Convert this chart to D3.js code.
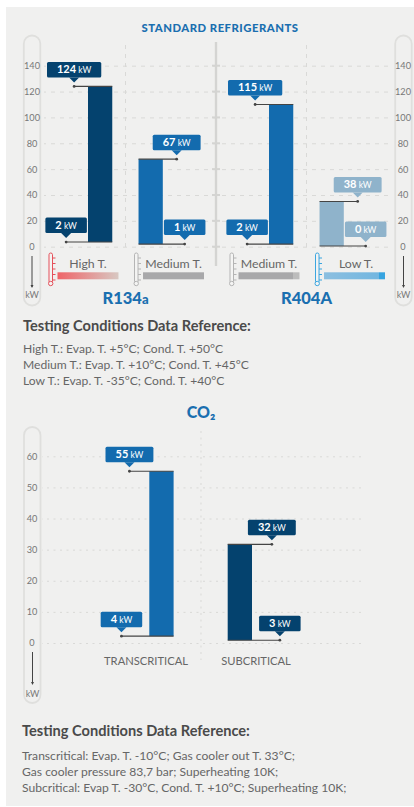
<!DOCTYPE html>
<html>
<head>
<meta charset="utf-8">
<script src="https://cdn.jsdelivr.net/npm/d3@7"></script>
<style>
  html, body { margin: 0; padding: 0; background: #fff; }
  svg { display: block; font-family: Lato, "Open Sans", sans-serif; }
</style>
</head>
<body>
<div id="chart"></div>
<script>
// top chart
const refrigerants = ["R134a", "R404A"];
const conditions = ["High T.", "Medium T.", "Medium T.", "Low T."];
const topBarTops = [124, 67.7, 110, 35];
const topBarBases = [3.6, 2, 2, 0.5];
const topLabelsHigh = [124, 67, 115, 38];
const topLabelsLow = [2, 1, 2, 0];
const topTicks = [0, 20, 40, 60, 80, 100, 120, 140];

// CO2 chart
const co2Categories = ["TRANSCRITICAL", "SUBCRITICAL"];
const co2BarTops = [55.2, 31.7];
const co2BarBases = [2.2, 0.9];
const co2LabelsHigh = [55, 32];
const co2LabelsLow = [4, 3];
const co2Ticks = [0, 10, 20, 30, 40, 50, 60];

const notesTop = [
  "High T.: Evap. T. +5°C; Cond. T. +50°C",
  "Medium T.: Evap. T. +10°C; Cond. T. +45°C",
  "Low T.: Evap. T. -35°C; Cond. T. +40°C"
];
const notesCo2 = [
  "Transcritical: Evap. T. -10°C; Gas cooler out T. 33°C;",
  "Gas cooler pressure 83,7 bar; Superheating 10K;",
  "Subcritical: Evap T. -30°C, Cond. T. +10°C; Superheating 10K;"
];

const DARK = "#04426e", BLUE = "#136bae", LIGHT = "#8fb3cb";
const TITLE = "#1a6fb0", GRID = "#d9d9d7", PILL = "#dfdfdd", INK = "#444", TEXT = "#666";

const svg = d3.select("#chart").append("svg")
  .attr("width", 414)
  .attr("height", 807);

svg.append("rect")
  .attr("x", 6).attr("y", 7)
  .attr("width", 408).attr("height", 799)
  .attr("fill", "#f0f0ef");

const defs = svg.append("defs");
function gradient(id, stops) {
  const g = defs.append("linearGradient").attr("id", id);
  stops.forEach(s => g.append("stop").attr("offset", s[0]).attr("stop-color", s[1]));
}
gradient("gradHigh", [[0, "#ef6468"], [1, "#d8c8c2"]]);
gradient("gradMed", [[0, "#a8a8aa"], [0.9, "#a8a8aa"], [0.9, "#bcbcbc"], [1, "#bcbcbc"]]);
gradient("gradGrey", [[0, "#a8a8aa"], [1, "#a8a8aa"]]);
gradient("gradLow", [[0, "#8cbfe0"], [0.9, "#72b6e0"], [0.9, "#37a4e0"], [1, "#37a4e0"]]);

// ---- scales, top chart
const yTop = d3.scaleLinear().domain([0, 140]).range([246.7, 65.7]);
const xGroup = d3.scaleBand().domain(refrigerants).range([35, 397]);
const xBar = d3.scaleBand().domain([0, 1]).range([53, 127.8]).paddingInner(0.52);
const xStrip = d3.scaleBand().domain([0, 1]).range([22.5, 169]).paddingInner(0.287);

// ---- scales, CO2 chart
const yCo2 = d3.scaleLinear().domain([0, 60]).range([643, 456.3]);
const xCo2 = d3.scaleBand().domain(co2Categories).range([149.3, 252]).paddingInner(0.69);
const xCo2Label = d3.scalePoint().domain(co2Categories).range([146, 256]);

function pill(x, y1, y2) {
  svg.append("rect")
    .attr("x", x).attr("y", y1)
    .attr("width", 16.5).attr("height", y2 - y1)
    .attr("rx", 8.2)
    .attr("fill", "none")
    .attr("stroke", PILL)
    .attr("stroke-width", 1.8);
}

function grid(scale, ticks, x1, x2, dash) {
  const g = svg.append("g")
    .attr("transform", `translate(${x2},0)`)
    .call(d3.axisLeft(scale).tickValues(ticks).tickSize(x2 - x1).tickFormat(""));
  g.select(".domain").remove();
  g.selectAll("line")
    .attr("stroke", GRID)
    .attr("stroke-dasharray", dash);
}

function tickLabels(scale, ticks, x) {
  const g = svg.append("g")
    .attr("transform", `translate(${x},0)`)
    .call(d3.axisLeft(scale).tickValues(ticks).tickSize(0).tickPadding(0));
  g.select(".domain").remove();
  g.selectAll("text")
    .attr("x", 0)
    .attr("text-anchor", "middle")
    .attr("fill", "#777")
    .style("font-family", "Lato, sans-serif")
    .style("font-size", "9.2px");
}

function unitArrow(x, y1, y2, yText) {
  svg.append("line")
    .attr("x1", x).attr("x2", x)
    .attr("y1", y1).attr("y2", y2)
    .attr("stroke", INK);
  svg.append("path")
    .attr("d", `M${x - 1.5},${y2 - 2}L${x + 1.5},${y2 - 2}L${x},${y2 + 1}Z`)
    .attr("fill", INK);
  svg.append("text")
    .attr("x", x).attr("y", yText)
    .attr("text-anchor", "middle")
    .attr("fill", "#777")
    .style("font-size", "9px")
    .text("kW");
}

function callout(dotX, lineY, value, color) {
  const g = svg.append("g");
  const label = g.append("text")
    .attr("x", dotX)
    .attr("y", lineY - 13)
    .attr("text-anchor", "middle")
    .attr("fill", "#fff");
  label.append("tspan").style("font-size", "11px").style("font-weight", 700).text(value);
  label.append("tspan").style("font-size", "8.5px").text(" kW");
  const w = label.node().getComputedTextLength() + 20;
  g.insert("path", "text")
    .attr("d", `M${dotX - 5},${lineY - 9}L${dotX},${lineY - 4}L${dotX + 5},${lineY - 9}Z`)
    .attr("fill", color);
  g.insert("rect", "text")
    .attr("x", dotX - w / 2)
    .attr("y", lineY - 24.5)
    .attr("width", w)
    .attr("height", 15.5)
    .attr("rx", 1.5)
    .attr("fill", color);
}

function leader(barX, barW, dotX, lineY) {
  const far = dotX < barX ? barX + barW : barX;
  svg.append("line")
    .attr("x1", far).attr("x2", dotX)
    .attr("y1", lineY).attr("y2", lineY)
    .attr("stroke", INK)
    .attr("stroke-width", 1.1);
  svg.append("circle")
    .attr("cx", dotX).attr("cy", lineY)
    .attr("r", 1.4)
    .attr("fill", INK);
}

function thermometer(x, color) {
  const g = svg.append("g").attr("transform", `translate(${x},0)`);
  g.append("rect")
    .attr("x", -1.5).attr("y", 253)
    .attr("width", 3.5).attr("height", 30)
    .attr("rx", 1.7)
    .attr("fill", "#f4f4f3")
    .attr("stroke", color);
  g.append("circle")
    .attr("cx", 0.2).attr("cy", 283.5)
    .attr("r", 2.2)
    .attr("fill", "#f4f4f3")
    .attr("stroke", color);
  d3.range(5).forEach(i => {
    g.append("line")
      .attr("x1", 2).attr("x2", 5)
      .attr("y1", 258 + i * 5.5).attr("y2", 258 + i * 5.5)
      .attr("stroke", color);
  });
}

function noteBlock(heading, lines, x, yHead, yFirst) {
  svg.append("text")
    .attr("x", x).attr("y", yHead)
    .attr("fill", "#4a4a4a")
    .style("font-size", "14.6px")
    .style("font-weight", 700)
    .text(heading);
  lines.forEach((line, i) => {
    svg.append("text")
      .attr("x", x).attr("y", yFirst + i * 16)
      .attr("fill", TEXT)
      .style("font-size", "12.1px")
      .text(line);
  });
}

// ---- top chart
svg.append("text")
  .attr("x", 220).attr("y", 32)
  .attr("text-anchor", "middle")
  .attr("fill", TITLE)
  .style("font-size", "11.3px")
  .style("font-weight", 900)
  .style("letter-spacing", "0.5px")
  .text("STANDARD REFRIGERANTS");

grid(yTop, topTicks, 44, 388, "4 5");

refrigerants.forEach(r => {
  svg.append("line")
    .attr("x1", xGroup(r) + xGroup.bandwidth() / 2)
    .attr("x2", xGroup(r) + xGroup.bandwidth() / 2)
    .attr("y1", 45).attr("y2", 250)
    .attr("stroke", GRID)
    .attr("stroke-dasharray", "4 5");
});

// centre divider
const divider = svg.append("g").attr("transform", "translate(216,0)");
divider.append("line")
  .attr("y1", 42).attr("y2", 266)
  .attr("stroke", "#d4d4d2")
  .attr("stroke-width", 2.4);
topTicks.forEach(t => {
  divider.append("line")
    .attr("x1", -4).attr("x2", 4)
    .attr("y1", yTop(t)).attr("y2", yTop(t))
    .attr("stroke", "#d4d4d2")
    .attr("stroke-width", 2);
});

pill(23.8, 35.5, 305.5);
pill(395.2, 35.5, 305.5);
tickLabels(yTop, topTicks, 32);
tickLabels(yTop, topTicks, 403);
unitArrow(32, 256, 287, 298);
unitArrow(403.5, 256, 287, 298);

const topColors = [DARK, BLUE, BLUE, LIGHT];
const stripFills = ["url(#gradHigh)", "url(#gradGrey)", "url(#gradMed)", "url(#gradLow)"];
const thermoColors = ["#e5505a", "#b4b4b4", "#b4b4b4", "#39a5e0"];

conditions.forEach((c, i) => {
  const group = refrigerants[Math.floor(i / 2)];
  const slot = i % 2;
  const barX = xGroup(group) + xBar(slot);
  const barW = xBar.bandwidth();
  const mid = barX + barW / 2;
  const side = slot === 0 ? -1 : 1;

  svg.append("rect")
    .attr("x", barX)
    .attr("y", yTop(topBarTops[i]))
    .attr("width", barW)
    .attr("height", yTop(topBarBases[i]) - yTop(topBarTops[i]))
    .attr("fill", topColors[i]);

  leader(barX, barW, mid + side * 26, yTop(topBarTops[i]));
  leader(barX, barW, mid + side * 34, yTop(topBarBases[i]));
  callout(mid + side * 26, yTop(topBarTops[i]), topLabelsHigh[i], topColors[i]);
  callout(mid + side * 34, yTop(topBarBases[i]), topLabelsLow[i], topColors[i]);

  const stripX = xGroup(group) + xStrip(slot);
  svg.append("rect")
    .attr("x", stripX)
    .attr("y", 272.3)
    .attr("width", xStrip.bandwidth())
    .attr("height", 7)
    .attr("fill", stripFills[i]);
  svg.append("text")
    .attr("x", stripX + xStrip.bandwidth() / 2 + (i === 3 ? 1.5 : 0))
    .attr("y", 268)
    .attr("text-anchor", "middle")
    .attr("fill", TEXT)
    .style("font-size", "12.3px")
    .text(c);
  thermometer(stripX - 7, thermoColors[i]);
});

refrigerants.forEach(r => {
  const label = svg.append("text")
    .attr("x", xGroup(r) + xGroup.bandwidth() / 2)
    .attr("y", 304)
    .attr("text-anchor", "middle")
    .attr("fill", TITLE)
    .style("font-size", "16.5px")
    .style("font-weight", 900);
  if (r === "R134a") {
    label.append("tspan").text("R134");
    label.append("tspan").style("font-size", "13px").text("a");
  } else {
    label.text(r);
  }
});

noteBlock("Testing Conditions Data Reference:", notesTop, 23, 331, 353);

// ---- CO2 chart
svg.append("text")
  .attr("x", 201).attr("y", 418)
  .attr("text-anchor", "middle")
  .attr("fill", TITLE)
  .style("font-size", "16px")
  .style("font-weight", 900)
  .text("CO₂");

grid(yCo2, co2Ticks, 42, 361, "2 4.5");
svg.append("line")
  .attr("x1", 201).attr("x2", 201)
  .attr("y1", 431).attr("y2", 660)
  .attr("stroke", GRID)
  .attr("stroke-dasharray", "2 4.5");

pill(24, 427, 703);
tickLabels(yCo2, co2Ticks, 32);
unitArrow(32.5, 652, 684, 697);

const co2Colors = [BLUE, DARK];
co2Categories.forEach((c, i) => {
  const barX = xCo2(c);
  const barW = xCo2.bandwidth();
  const mid = barX + barW / 2;
  const side = i === 0 ? -1 : 1;

  svg.append("rect")
    .attr("x", barX)
    .attr("y", yCo2(co2BarTops[i]))
    .attr("width", barW)
    .attr("height", yCo2(co2BarBases[i]) - yCo2(co2BarTops[i]))
    .attr("fill", co2Colors[i]);

  leader(barX, barW, mid + side * 32, yCo2(co2BarTops[i]));
  leader(barX, barW, mid + side * 40, yCo2(co2BarBases[i]));
  callout(mid + side * 32, yCo2(co2BarTops[i]), co2LabelsHigh[i], co2Colors[i]);
  callout(mid + side * 40, yCo2(co2BarBases[i]), co2LabelsLow[i], co2Colors[i]);

  svg.append("text")
    .attr("x", xCo2Label(c))
    .attr("y", 665)
    .attr("text-anchor", "middle")
    .attr("fill", TEXT)
    .style("font-size", "11.2px")
    .text(c);
});

noteBlock("Testing Conditions Data Reference:", notesCo2, 22, 736, 760);
</script>
</body>
</html>
